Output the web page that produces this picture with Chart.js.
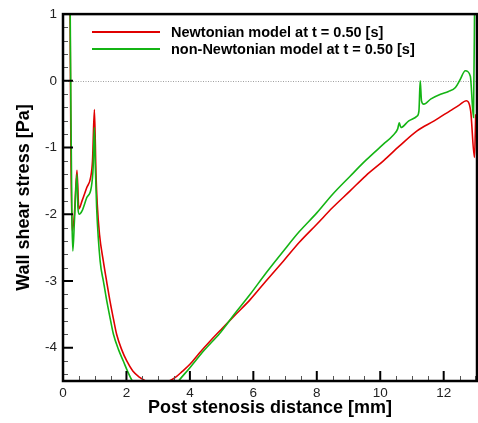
<!DOCTYPE html>
<html>
<head>
<meta charset="utf-8">
<script src="https://cdn.jsdelivr.net/npm/chart.js@4.4.1/dist/chart.umd.min.js"></script>
<style>
  html,body{margin:0;padding:0;background:#fff;}
  #wrap{width:478px;height:423px;}
</style>
</head>
<body>
<div id="wrap"><canvas id="c" width="478" height="423"></canvas></div>
<script>
// ---- data ----
const seriesLabels = ["Newtonian model at t = 0.50 [s]", "non-Newtonian model at t = 0.50 [s]"];
const newtonX = [0.22,0.25,0.29,0.36,0.44,0.50,0.60,0.75,0.87,0.93,0.99,1.04,1.08,1.15,1.27,1.38,1.48,1.59,1.69,1.85,2.01,2.20,2.43,2.60,2.75,3.06,3.30,3.53,3.75,4.00,4.30,4.64,5.00,5.45,5.90,6.40,6.95,7.45,8.00,8.50,9.05,9.55,10.10,10.60,11.16,11.70,12.20,12.50,12.71,12.85,12.97,13.01];
const newtonY = [1.30,-1.10,-2.25,-2.00,-1.34,-1.92,-1.80,-1.60,-1.45,-1.20,-0.43,-1.40,-1.85,-2.30,-2.70,-3.02,-3.30,-3.57,-3.80,-4.03,-4.20,-4.35,-4.45,-4.50,-4.53,-4.54,-4.51,-4.45,-4.36,-4.25,-4.08,-3.90,-3.72,-3.50,-3.28,-3.00,-2.70,-2.42,-2.15,-1.90,-1.65,-1.42,-1.20,-0.98,-0.75,-0.60,-0.45,-0.36,-0.30,-0.45,-1.15,-0.50];
const nonNewtonX = [0.22,0.25,0.28,0.31,0.36,0.44,0.47,0.51,0.60,0.75,0.89,0.95,0.99,1.02,1.06,1.17,1.28,1.38,1.49,1.59,1.75,1.90,2.05,2.22,2.60,3.00,3.30,3.64,4.00,4.45,4.95,5.40,5.90,6.40,6.95,7.45,8.00,8.50,9.05,9.55,10.10,10.40,10.55,10.60,10.65,10.90,11.16,11.22,11.26,11.30,11.37,11.60,11.90,12.15,12.37,12.52,12.68,12.84,12.94,12.98];
const nonNewtonY = [1.50,-0.50,-2.00,-2.55,-2.10,-1.40,-1.90,-2.00,-1.95,-1.75,-1.60,-1.30,-0.70,-1.30,-1.90,-2.70,-3.02,-3.30,-3.57,-3.80,-4.03,-4.20,-4.37,-4.53,-4.75,-4.82,-4.70,-4.50,-4.30,-4.04,-3.78,-3.50,-3.20,-2.88,-2.55,-2.26,-1.98,-1.70,-1.43,-1.19,-0.95,-0.82,-0.72,-0.63,-0.70,-0.60,-0.53,-0.45,0.00,-0.30,-0.35,-0.27,-0.20,-0.16,-0.10,0.02,0.15,0.07,-0.55,1.50];
const xTickValues = [0,2,4,6,8,10,12];
const yTickValues = [-4,-3,-2,-1,0,1];
const xRange = [0, 13.05];
const yRange = [-4.5, 1];

const toPts = (xs, ys) => xs.map((v,i)=>({x:v, y:ys[i]}));
const RED = '#e00000', GREEN = '#14b414';
const FONT = '"Liberation Sans", Arial, sans-serif';

const decor = {
  id: 'decor',
  beforeDatasetsDraw(chart){
    const {ctx, chartArea:a, scales:{y}} = chart;
    const yp = Math.round(y.getPixelForValue(0)) + 0.5;
    ctx.save();
    ctx.strokeStyle = '#a0a0a0'; ctx.lineWidth = 1; ctx.setLineDash([1,1.5]);
    ctx.beginPath(); ctx.moveTo(a.left, yp); ctx.lineTo(a.right, yp); ctx.stroke();
    ctx.restore();
  },
  afterDatasetsDraw(chart){
    const {ctx, chartArea:a, scales:{x,y}} = chart;
    ctx.save();
    // minor ticks
    ctx.strokeStyle = '#555'; ctx.lineWidth = 1;
    ctx.beginPath();
    for (let k = 1; k * 0.5 < xRange[1]; k++) {
      if (k % 4 === 0) continue;
      const px = Math.round(x.getPixelForValue(k * 0.5)) + 0.5;
      ctx.moveTo(px, a.bottom); ctx.lineTo(px, a.bottom - 5);
    }
    for (let k = -22; k <= 5; k++) {
      if (k % 5 === 0) continue;
      const v = k * 0.2;
      if (v < yRange[0] || v > yRange[1]) continue;
      const py = Math.round(y.getPixelForValue(v)) + 0.5;
      ctx.moveTo(a.left, py); ctx.lineTo(a.left + 5, py);
    }
    ctx.stroke();
    // major ticks
    ctx.strokeStyle = '#000'; ctx.lineWidth = 2;
    ctx.beginPath();
    xTickValues.forEach(v => { const px = x.getPixelForValue(v); ctx.moveTo(px, a.bottom); ctx.lineTo(px, a.bottom - 10); });
    yTickValues.forEach(v => { const py = y.getPixelForValue(v); ctx.moveTo(a.left, py); ctx.lineTo(a.left + 10, py); });
    ctx.stroke();
    // frame
    ctx.lineWidth = 2.5;
    ctx.strokeRect(a.left, a.top, a.right - a.left, a.bottom - a.top);
    // legend
    const items = [[RED, seriesLabels[0]], [GREEN, seriesLabels[1]]];
    ctx.font = 'bold 14.5px ' + FONT;
    ctx.textBaseline = 'middle';
    items.forEach((it, i) => {
      const ly = a.top + 18 + i * 17;
      ctx.strokeStyle = it[0]; ctx.lineWidth = 2;
      ctx.beginPath(); ctx.moveTo(a.left + 29, ly); ctx.lineTo(a.left + 97, ly); ctx.stroke();
      ctx.fillStyle = '#000';
      ctx.fillText(it[1], a.left + 108, ly + 0.5);
    });
    ctx.restore();
  }
};

new Chart(document.getElementById('c'), {
  type: 'line',
  data: {
    datasets: [
      { label: seriesLabels[1], data: toPts(nonNewtonX, nonNewtonY), borderColor: GREEN, borderWidth: 1.6, pointRadius: 0, cubicInterpolationMode: 'monotone', fill: false, order: 0 },
      { label: seriesLabels[0], data: toPts(newtonX, newtonY), borderColor: RED, borderWidth: 1.6, pointRadius: 0, cubicInterpolationMode: 'monotone', fill: false, order: 1 }
    ]
  },
  options: {
    responsive: false,
    animation: false,
    devicePixelRatio: 1,
    layout: { padding: { top: 13, right: 1, left: 0, bottom: 0 } },
    plugins: { legend: { display: false }, tooltip: { enabled: false } },
    scales: {
      x: {
        type: 'linear', min: xRange[0], max: xRange[1],
        afterBuildTicks: s => { s.ticks = xTickValues.map(v => ({ value: v })); },
        afterFit: s => { s.height = 42; },
        grid: { display: false, drawTicks: false },
        border: { display: false },
        ticks: { padding: 4, color: '#222', font: { family: FONT, size: 13.5 }, maxRotation: 0 },
        title: { display: true, text: 'Post stenosis distance [mm]', color: '#000', padding: { top: 0, bottom: 4 }, font: { family: FONT, size: 18, weight: 'bold' } }
      },
      y: {
        type: 'linear', min: yRange[0], max: yRange[1],
        afterBuildTicks: s => { s.ticks = yTickValues.map(v => ({ value: v })); },
        afterFit: s => { s.width = 63; },
        grid: { display: false, drawTicks: false },
        border: { display: false },
        ticks: { padding: 6, color: '#222', font: { family: FONT, size: 13.5 } },
        title: { display: true, text: 'Wall shear stress [Pa]', color: '#000', padding: { top: 13, bottom: 0 }, font: { family: FONT, size: 18, weight: 'bold' } }
      }
    }
  },
  plugins: [decor]
});
</script>
</body>
</html>
